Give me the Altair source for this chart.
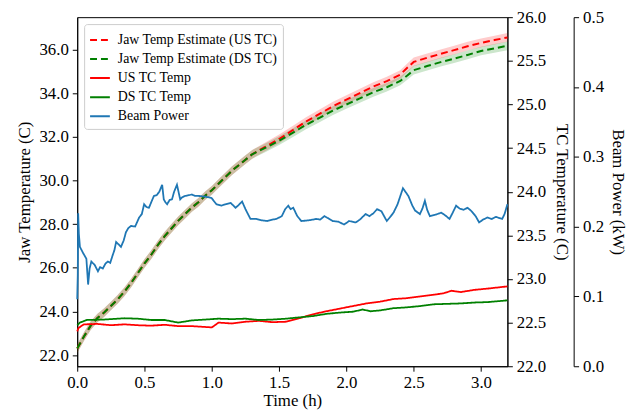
import altair as alt
import pandas as pd

# ---------------- data ----------------
series_names = ["Jaw Temp Estimate (US TC)", "Jaw Temp Estimate (DS TC)",
                "US TC Temp", "DS TC Temp", "Beam Power"]
series_colors = ["#ff0000", "#008000", "#ff0000", "#008000", "#1f77b4"]
series_dashes = [[7, 4], [7, 4], [1, 0], [1, 0], [1, 0]]

jaw_t = [0, 0.05, 0.1, 0.15, 0.2, 0.25, 0.3, 0.35, 0.4, 0.45, 0.5, 0.55, 0.6,
         0.65, 0.7, 0.75, 0.8, 0.85, 0.9, 0.95, 1.0, 1.05, 1.1, 1.15, 1.2, 1.25,
         1.3, 1.4, 1.5, 1.6, 1.7, 1.8, 1.9, 2.0, 2.1, 2.2, 2.3, 2.4, 2.45, 2.5,
         2.6, 2.7, 2.8, 2.9, 3.0, 3.1, 3.196]
jaw_us = [22.3, 22.85, 23.35, 23.7, 23.95, 24.25, 24.55, 24.9, 25.3, 25.75, 26.2,
          26.6, 27.05, 27.45, 27.8, 28.15, 28.45, 28.75, 29.0, 29.3, 29.55, 29.85,
          30.15, 30.45, 30.7, 30.95, 31.2, 31.55, 31.9, 32.3, 32.7, 33.05, 33.4,
          33.7, 34.0, 34.3, 34.55, 34.85, 35.15, 35.43, 35.62, 35.8, 35.97, 36.15,
          36.3, 36.43, 36.55]
jaw_ds = [22.3, 22.85, 23.35, 23.7, 23.95, 24.25, 24.55, 24.9, 25.3, 25.75, 26.2,
          26.6, 27.05, 27.45, 27.8, 28.15, 28.45, 28.75, 29.0, 29.3, 29.55, 29.85,
          30.15, 30.45, 30.7, 30.95, 31.2, 31.5, 31.82, 32.18, 32.55, 32.87, 33.2,
          33.48, 33.76, 34.04, 34.27, 34.56, 34.8, 35.05, 35.24, 35.42, 35.58,
          35.75, 35.93, 36.05, 36.17]
band_half = 0.2

tc_us_t = [0, 0.01, 0.05, 0.15, 0.25, 0.35, 0.45, 0.55, 0.65, 0.75, 0.85, 0.95,
           1.0, 1.05, 1.15, 1.25, 1.35, 1.45, 1.55, 1.65, 1.75, 1.85, 1.95, 2.05,
           2.15, 2.25, 2.35, 2.45, 2.55, 2.65, 2.72, 2.78, 2.85, 2.95, 3.05, 3.196]
tc_us = [22.40, 22.44, 22.48, 22.485, 22.47, 22.48, 22.47, 22.465, 22.475, 22.46,
         22.46, 22.45, 22.445, 22.5, 22.49, 22.51, 22.52, 22.505, 22.51, 22.55,
         22.595, 22.63, 22.66, 22.69, 22.72, 22.74, 22.77, 22.78, 22.80, 22.82,
         22.835, 22.865, 22.85, 22.875, 22.89, 22.915]

tc_ds_t = [0, 0.02, 0.07, 0.2, 0.35, 0.45, 0.55, 0.65, 0.75, 0.85, 0.95, 1.05,
           1.15, 1.25, 1.35, 1.45, 1.55, 1.65, 1.75, 1.85, 1.95, 2.05, 2.12, 2.18,
           2.25, 2.35, 2.45, 2.55, 2.65, 2.75, 2.85, 2.95, 3.05, 3.196]
tc_ds = [22.47, 22.50, 22.53, 22.535, 22.55, 22.545, 22.53, 22.53, 22.50, 22.525,
         22.535, 22.545, 22.54, 22.545, 22.53, 22.535, 22.545, 22.56, 22.575, 22.6,
         22.615, 22.625, 22.65, 22.63, 22.64, 22.665, 22.675, 22.69, 22.71, 22.715,
         22.72, 22.73, 22.735, 22.755]

beam_t = [0.0, 0.004, 0.007, 0.012, 0.02, 0.044, 0.068, 0.081, 0.092, 0.105, 0.13,
          0.154, 0.17, 0.19, 0.21, 0.227, 0.245, 0.265, 0.276, 0.289, 0.305, 0.325,
          0.345, 0.362, 0.38, 0.399, 0.43, 0.46, 0.48, 0.497, 0.515, 0.533, 0.55,
          0.57, 0.59, 0.61, 0.631, 0.643, 0.655, 0.668, 0.686, 0.704, 0.72, 0.741,
          0.765, 0.78, 0.802, 0.83, 0.851, 0.875, 0.9, 0.95, 0.998, 1.034, 1.071,
          1.1, 1.14, 1.176, 1.2, 1.225, 1.25, 1.287, 1.33, 1.37, 1.41, 1.45, 1.48,
          1.52, 1.545, 1.568, 1.585, 1.605, 1.635, 1.665, 1.72, 1.776, 1.805, 1.836,
          1.865, 1.898, 1.94, 1.983, 2.02, 2.069, 2.1, 2.142, 2.17, 2.2, 2.228,
          2.26, 2.3, 2.33, 2.35, 2.38, 2.42, 2.46, 2.49, 2.51, 2.546, 2.565, 2.583,
          2.6, 2.62, 2.66, 2.705, 2.735, 2.766, 2.79, 2.815, 2.84, 2.87, 2.9, 2.93,
          2.96, 2.986, 3.015, 3.047, 3.08, 3.11, 3.157, 3.175, 3.196]
beam_p = [0.096, 0.13, 0.219, 0.19, 0.171, 0.162, 0.154, 0.117, 0.14, 0.15, 0.145,
          0.136, 0.142, 0.14, 0.147, 0.15, 0.148, 0.16, 0.166, 0.178, 0.175, 0.171,
          0.18, 0.192, 0.198, 0.201, 0.2, 0.213, 0.218, 0.232, 0.228, 0.227, 0.235,
          0.244, 0.245, 0.25, 0.26, 0.239, 0.235, 0.232, 0.238, 0.239, 0.25, 0.26,
          0.239, 0.242, 0.244, 0.245, 0.246, 0.244, 0.244, 0.243, 0.241, 0.232,
          0.23, 0.232, 0.234, 0.227, 0.231, 0.236, 0.225, 0.211, 0.211, 0.209,
          0.208, 0.21, 0.211, 0.215, 0.225, 0.23, 0.225, 0.227, 0.215, 0.208, 0.209,
          0.211, 0.21, 0.215, 0.212, 0.208, 0.207, 0.203, 0.208, 0.206, 0.21, 0.218,
          0.215, 0.219, 0.225, 0.222, 0.208, 0.215, 0.22, 0.232, 0.255, 0.244, 0.23,
          0.223, 0.218, 0.226, 0.237, 0.224, 0.215, 0.217, 0.22, 0.216, 0.211, 0.22,
          0.23, 0.226, 0.224, 0.227, 0.222, 0.215, 0.206, 0.21, 0.213, 0.211, 0.214,
          0.211, 0.218, 0.232]

x_ticks = [0.0, 0.5, 1.0, 1.5, 2.0, 2.5, 3.0]
jaw_ticks = [22.0, 24.0, 26.0, 28.0, 30.0, 32.0, 34.0, 36.0]
tc_ticks = [22.0, 22.5, 23.0, 23.5, 24.0, 24.5, 25.0, 25.5, 26.0]
beam_ticks = [0.0, 0.1, 0.2, 0.3, 0.4, 0.5]

# ---------------- tables ----------------
jaw_us_df = pd.DataFrame({"t": jaw_t, "value": jaw_us,
                          "lo": [v - band_half for v in jaw_us],
                          "hi": [v + band_half for v in jaw_us],
                          "series": series_names[0]})
jaw_ds_df = pd.DataFrame({"t": jaw_t, "value": jaw_ds,
                          "lo": [v - band_half for v in jaw_ds],
                          "hi": [v + band_half for v in jaw_ds],
                          "series": series_names[1]})
jaw_df = pd.concat([jaw_us_df, jaw_ds_df], ignore_index=True)
tc_df = pd.concat([
    pd.DataFrame({"t": tc_us_t, "value": tc_us, "series": series_names[2]}),
    pd.DataFrame({"t": tc_ds_t, "value": tc_ds, "series": series_names[3]}),
], ignore_index=True)
beam_df = pd.DataFrame({"t": beam_t, "value": beam_p, "series": series_names[4]})

FONT = "'Liberation Serif', 'Times New Roman', 'DejaVu Serif', serif"

x_enc = alt.X("t:Q", scale=alt.Scale(domain=[0, 3.196], nice=False, zero=False),
              axis=alt.Axis(title="Time (h)", values=x_ticks, format=".1f",
                            labelFlush=False, labelPadding=3, titlePadding=3))
color_enc = alt.Color("series:N", scale=alt.Scale(domain=series_names, range=series_colors),
                      legend=alt.Legend(title=None))
dash_enc = alt.StrokeDash("series:N", scale=alt.Scale(domain=series_names, range=series_dashes),
                          legend=alt.Legend(title=None))

left_scale = alt.Scale(domain=[21.49, 37.48], nice=False, zero=False)
left_axis = alt.Axis(title="Jaw Temperature (C)", values=jaw_ticks, format=".1f",
                     orient="left", labelFlush=False, labelPadding=4, titlePadding=5)

band_us = alt.Chart(jaw_us_df).mark_area(color="#ff0000", opacity=0.2).encode(
    x=x_enc, y=alt.Y("lo:Q", scale=left_scale, axis=left_axis), y2="hi:Q")
band_ds = alt.Chart(jaw_ds_df).mark_area(color="#008000", opacity=0.2).encode(
    x=x_enc, y=alt.Y("lo:Q", scale=left_scale, axis=left_axis), y2="hi:Q")
jaw_lines = alt.Chart(jaw_df).mark_line(strokeWidth=2).encode(
    x=x_enc, y=alt.Y("value:Q", scale=left_scale, axis=left_axis),
    color=color_enc, strokeDash=dash_enc, detail="series:N")
left = alt.layer(band_us, band_ds, jaw_lines)

tc_lines = alt.Chart(tc_df).mark_line(strokeWidth=1.8).encode(
    x=x_enc,
    y=alt.Y("value:Q", scale=alt.Scale(domain=[22, 26], nice=False, zero=False),
            axis=alt.Axis(title="TC Temperature (C)", values=tc_ticks, format=".1f",
                          orient="right", labelFlush=False, labelPadding=4,
                          titlePadding=7)),
    color=color_enc, strokeDash=dash_enc)

beam_line = alt.Chart(beam_df).mark_line(strokeWidth=1.8).encode(
    x=x_enc,
    y=alt.Y("value:Q", scale=alt.Scale(domain=[0, 0.5], nice=False, zero=False),
            axis=alt.Axis(title="Beam Power (kW)", values=beam_ticks, format=".1f",
                          orient="right", offset=67, labelFlush=False,
                          labelPadding=4, titlePadding=5)),
    color=color_enc, strokeDash=dash_enc)

chart = alt.layer(left, tc_lines, beam_line).resolve_scale(y="independent").properties(
    width=435, height=353,
    autosize=alt.AutoSizeParams(type="none"),
    padding={"left": 70, "top": 7, "right": 126, "bottom": 44},
).configure_view(stroke="black", strokeWidth=1).configure_axis(
    labelFont=FONT, titleFont=FONT, labelFontSize=17, titleFontSize=17,
    titleFontWeight="normal", labelColor="black", titleColor="black",
    domainColor="black", tickColor="black", tickSize=5, grid=False,
).configure_legend(
    orient="top-left", offset=7, padding=5, strokeColor="#cccccc", cornerRadius=3,
    fillColor="white", labelFont=FONT, labelFontSize=14, labelColor="black",
    symbolType="stroke", symbolSize=400, symbolStrokeWidth=2, rowPadding=1.3,
    labelOffset=7, labelLimit=300,
)

chart.save("out.html", embed_options={"renderer": "svg", "actions": False})
